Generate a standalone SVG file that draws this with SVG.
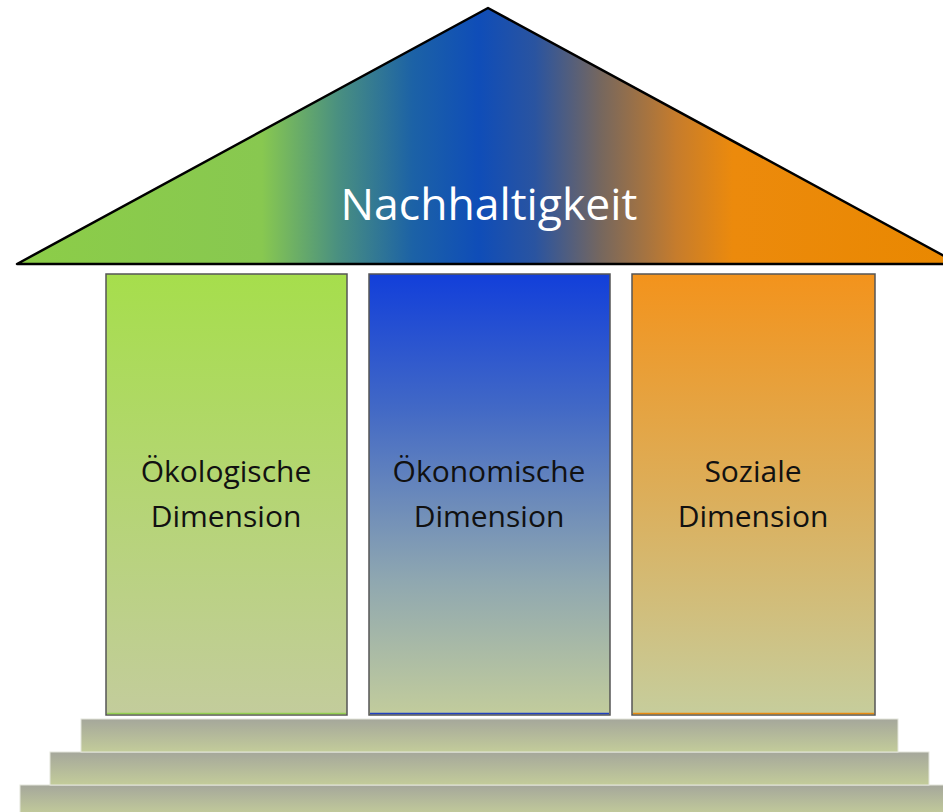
<svg xmlns="http://www.w3.org/2000/svg" width="943" height="812" viewBox="0 0 943 812">
<defs>
<linearGradient id="roofG" x1="17" y1="0" x2="959" y2="0" gradientUnits="userSpaceOnUse">
<stop offset="0" stop-color="#8ccd48"/>
<stop offset="0.26" stop-color="#88c850"/>
<stop offset="0.34" stop-color="#4a9080"/>
<stop offset="0.42" stop-color="#1c62a6"/>
<stop offset="0.49" stop-color="#0f4db8"/>
<stop offset="0.55" stop-color="#2a54a0"/>
<stop offset="0.62" stop-color="#76675e"/>
<stop offset="0.70" stop-color="#c67c2c"/>
<stop offset="0.76" stop-color="#ec8a0c"/>
<stop offset="1" stop-color="#e98800"/>
</linearGradient>
<linearGradient id="gGreen" x1="0" y1="0" x2="0" y2="1">
<stop offset="0" stop-color="#a6de4c"/>
<stop offset="1" stop-color="#c3cc9c"/>
</linearGradient>
<linearGradient id="gBlue" x1="0" y1="0" x2="0" y2="1">
<stop offset="0" stop-color="#123fda"/>
<stop offset="0.3" stop-color="#4168c6"/>
<stop offset="0.7" stop-color="#90a8b0"/>
<stop offset="1" stop-color="#c2cc9c"/>
</linearGradient>
<linearGradient id="gOrange" x1="0" y1="0" x2="0" y2="1">
<stop offset="0" stop-color="#f3931c"/>
<stop offset="0.5" stop-color="#dcae5a"/>
<stop offset="1" stop-color="#c6cd9c"/>
</linearGradient>
<linearGradient id="gStep" x1="0" y1="0" x2="0" y2="1">
<stop offset="0" stop-color="#a5a79b"/>
<stop offset="1" stop-color="#c3cc9a"/>
</linearGradient>
</defs>
<style>
.pillar{stroke:#555;stroke-width:1.5}
.step{fill:url(#gStep);stroke:#e4e6dc;stroke-width:1}
.lbl{font-family:"Open Sans","Liberation Sans",sans-serif;font-size:30px;fill:#111;text-anchor:middle}
.title{font-family:"Open Sans","Liberation Sans",sans-serif;font-size:44.5px;fill:#fff;text-anchor:middle}
</style>
<g id="steps">
<rect class="step" x="20" y="785" width="930" height="30"/>
<rect class="step" x="50" y="752" width="879" height="33"/>
<rect class="step" x="81" y="719" width="817" height="33"/>
</g>
<g id="roof">
<polygon points="488,8 17,264 959,264" fill="url(#roofG)" stroke="#000" stroke-width="2.5" stroke-linejoin="round"/>
<text class="title" x="489" y="220">Nachhaltigkeit</text>
</g>
<g id="pillar-oeko">
<rect class="pillar" x="106" y="274" width="241" height="441" fill="url(#gGreen)"/>
<line x1="107" y1="713.5" x2="346" y2="713.5" stroke="#92d050" stroke-width="1.5"/>
<text class="lbl" x="226" y="482">Ökologische</text>
<text class="lbl" x="226" y="527">Dimension</text>
</g>
<g id="pillar-oekonom">
<rect class="pillar" x="369" y="274" width="241" height="441" fill="url(#gBlue)"/>
<line x1="370" y1="713.5" x2="609" y2="713.5" stroke="#2040c0" stroke-width="1.5"/>
<text class="lbl" x="489" y="482">Ökonomische</text>
<text class="lbl" x="489" y="527">Dimension</text>
</g>
<g id="pillar-sozial">
<rect class="pillar" x="632" y="274" width="243" height="441" fill="url(#gOrange)"/>
<line x1="633" y1="713.5" x2="874" y2="713.5" stroke="#e88a10" stroke-width="1.5"/>
<text class="lbl" x="753" y="482">Soziale</text>
<text class="lbl" x="753" y="527">Dimension</text>
</g>
</svg>
